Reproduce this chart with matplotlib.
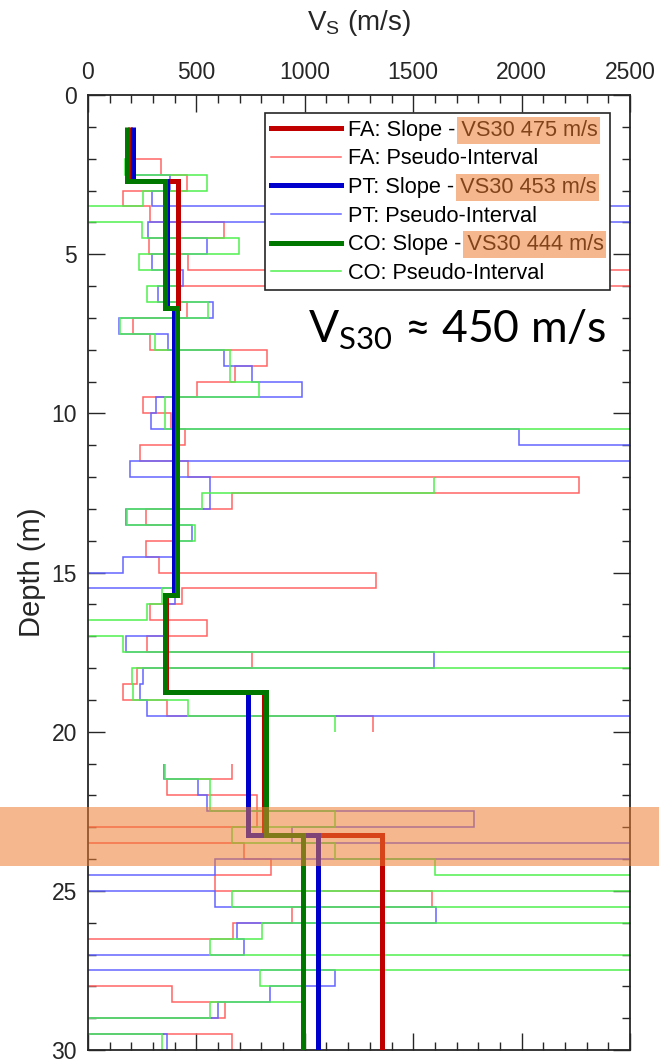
import numpy as np
import matplotlib
matplotlib.use('Agg')
import matplotlib.pyplot as plt
from matplotlib.lines import Line2D
from matplotlib.patches import Rectangle
from matplotlib.ticker import MultipleLocator

plt.rcParams['font.family'] = ['Liberation Sans', 'DejaVu Sans']
plt.rcParams['mathtext.fontset'] = 'custom'
plt.rcParams['mathtext.rm'] = 'Lato'
plt.rcParams['mathtext.sf'] = 'Liberation Sans'

nan = np.nan

# pseudo-interval Vs (m/s), 0.5 m intervals from 1.5 m to 30 m
# -500 / 3000 = value off the plotted range, nan = no data
depth_edges = np.arange(1.5, 30.01, 0.5)
fa_pseudo = [194, 337, 455, 163, 286, 627, 280, 463, 3000, 420,
             455, 209, 286, 824, 678, 504, 255, 381, 449, 240,
             463, 2266, 663, 266, 400, 266, 329, 1328, 432, 286,
             547, 271, 758, 225, 163, 366, 1316, nan, nan, 663,
             363, 778, 778, -500, 721, 844, 586, 1588, 940, 670,
             -500, -500, -500, 386, 632, -500, 663]
pt_pseudo = [209, 217, 380, 294, 3000, 278, 547, 294, 440, 324,
             575, 145, 370, 629, 755, 986, 314, 290, 1990, 3000,
             194, 563, 563, 174, 478, 409, 160, -500, 401, 370,
             355, 174, 1596, 252, 240, 271, 3000, nan, nan, 350,
             509, 547, 1780, 940, 3000, 586, -500, 586, 1604, 686,
             721, -500, 1139, 839, 600, -500, 366]
co_pseudo = [178, 170, 547, 255, -500, 248, 698, 237, 424, 271,
             555, 148, 309, 655, 655, 790, 355, 355, 3000, nan,
             nan, 1596, 524, 181, 494, 410, 400, 400, 340, 271,
             -500, 160, 3000, 201, 209, 463, 1139, nan, nan, 355,
             563, 563, 1139, 663, 1139, 1601, 3000, 663, 3000, 801,
             563, 3000, 793, 996, 563, -500, 340]

# slope-method layered profiles
slope_edges = [1.0, 2.7, 6.7, 15.7, 18.75, 23.25, 30.0]
fa_slope = [194, 414, 410, 362, 812, 1357]
pt_slope = [209, 366, 396, 355, 740, 1063]
co_slope = [178, 355, 410, 355, 822, 993]

vs30 = {'FA': 475, 'PT': 453, 'CO': 444}

thick_col = {'FA': '#c00000', 'PT': '#0000cc', 'CO': '#007800'}
thin_col = {'FA': '#ff6464', 'PT': '#6464ff', 'CO': '#50f050'}

fig = plt.figure(figsize=(6.59, 10.6), dpi=100)
ax = fig.add_axes([88 / 659, 1 - 1050 / 1060, 542 / 659, 955 / 1060])

# thin pseudo-interval stairs
for key, vals in [('FA', fa_pseudo), ('PT', pt_pseudo), ('CO', co_pseudo)]:
    ax.stairs(vals, depth_edges, orientation='horizontal', baseline=None,
              color=thin_col[key], lw=1.1, zorder=2)

# thick slope stairs
for key, vals in [('FA', fa_slope), ('PT', pt_slope), ('CO', co_slope)]:
    ax.stairs(vals, slope_edges, orientation='horizontal', baseline=None,
              color=thick_col[key], lw=3.6, zorder=3)

ax.set_xlim(0, 2500)
ax.set_ylim(30, 0)
ax.xaxis.set_major_locator(MultipleLocator(500))
ax.xaxis.set_minor_locator(MultipleLocator(100))
ax.yaxis.set_major_locator(MultipleLocator(5))
ax.yaxis.set_minor_locator(MultipleLocator(1))
ax.xaxis.tick_top()
ax.xaxis.set_label_position('top')
ax.tick_params(which='both', direction='in', top=True, bottom=True,
               left=True, right=True, labeltop=True, labelbottom=False,
               colors='#262626', labelsize=16.5)
ax.tick_params(which='major', length=12, width=1.0, pad=8)
ax.tick_params(which='minor', length=6, width=1.0)
for sp in ax.spines.values():
    sp.set_color('#262626')
    sp.set_linewidth(1.3)

ax.set_xlabel(r'V$_\mathsf{S}$ (m/s)', fontsize=20, color='#262626', labelpad=22)
ax.set_ylabel('Depth (m)', fontsize=21, color='#262626', labelpad=4)

handles, labels = [], []
for key in ['FA', 'PT', 'CO']:
    handles.append(Line2D([], [], color=thick_col[key], lw=3.6))
    labels.append(f'{key}: Slope - VS30 {vs30[key]} m/s')
    handles.append(Line2D([], [], color=thin_col[key], lw=1.1))
    labels.append(f'{key}: Pseudo-Interval')

leg = ax.legend(handles, labels, loc='upper right', bbox_to_anchor=(0.963, 0.981),
                fontsize=15.7, frameon=True, fancybox=False, edgecolor='#262626',
                framealpha=1, handlelength=3.2, handletextpad=0.3,
                labelspacing=0.35, borderpad=0.3, borderaxespad=0)
leg.get_frame().set_linewidth(1.2)
leg.set_zorder(5)

fig.text(308 / 659, 1 - 343 / 1060, r'V$_\mathrm{S30}$ ≈ 450 m/s',
         fontsize=32, family=['Lato', 'DejaVu Sans'], ha='left', va='baseline')

# orange highlights (band across the figure + VS30 values in legend)
hl = '#ED7D31'
fig.add_artist(Rectangle((0, 1 - 866 / 1060), 1, 59 / 1060, transform=fig.transFigure,
                         facecolor=hl, edgecolor='none', alpha=0.55, zorder=10))

fig.canvas.draw()
renderer = fig.canvas.get_renderer()
inv = fig.transFigure.inverted()
for txt in leg.get_texts()[0::2]:
    prefix = txt.get_text().split('VS30')[0].rstrip()
    bb = txt.get_window_extent(renderer)
    probe = fig.text(0, 0, prefix, fontproperties=txt.get_fontproperties())
    pw = probe.get_window_extent(renderer).width
    probe.remove()
    x0, y0 = inv.transform((bb.x0 + pw + 2, bb.y0 - 3))
    x1, y1 = inv.transform((bb.x1 + 3, bb.y1 + 3))
    fig.add_artist(Rectangle((x0, y0), x1 - x0, y1 - y0, transform=fig.transFigure,
                             facecolor=hl, edgecolor='none', alpha=0.55, zorder=10))

fig.savefig('out.png', dpi=100)
